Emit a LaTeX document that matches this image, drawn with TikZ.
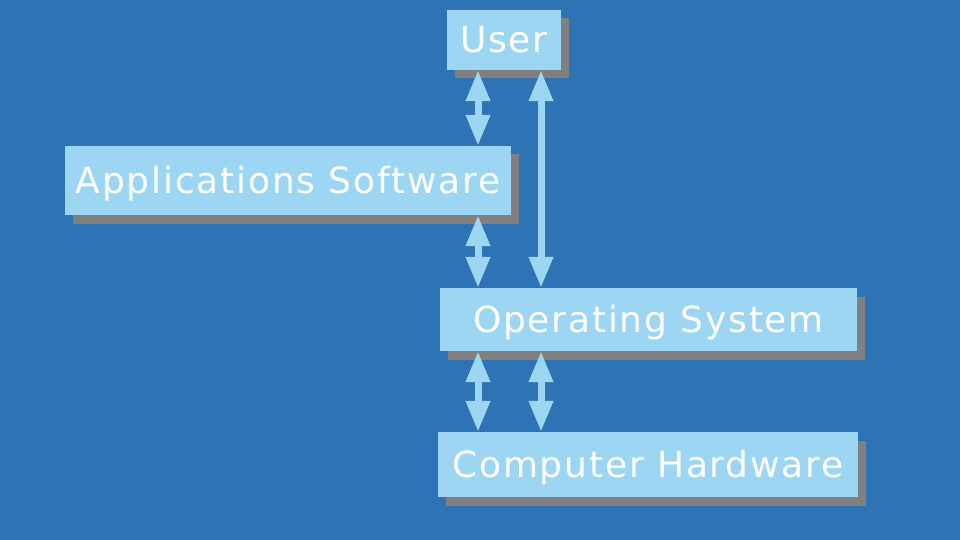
\documentclass[tikz,border=0pt]{standalone}
\usepackage{fontspec}
\setmainfont{DejaVu Sans}[LetterSpace=5]
\usetikzlibrary{arrows.meta,shadows}
\definecolor{bg}{RGB}{46,116,181}
\definecolor{boxc}{RGB}{157,214,243}
\definecolor{shadowc}{RGB}{128,128,128}
\begin{document}
\begin{tikzpicture}[x=1pt,y=-1pt,
  box/.style={rectangle, fill=boxc, inner sep=0pt, text=white,
    font=\fontsize{36}{40}\selectfont, text height=26pt, text depth=0pt,
    drop shadow={shadow xshift=8pt, shadow yshift=-8.5pt, fill=shadowc, opacity=1}},
  dbl/.style={draw=boxc, line width=7pt,
    {Triangle[length=31pt,width=23pt]}-{Triangle[length=31pt,width=23pt]}}]
\fill[bg] (0,0) rectangle (960,540);
\useasboundingbox (0,0) rectangle (960,540);
\node[box, minimum width=114pt, minimum height=60pt] (user) at (504,40) {User};
\node[box, minimum width=446pt, minimum height=69pt] (apps) at (288,180.5) {Applications Software};
\node[box, minimum width=417pt, minimum height=63pt] (os) at (648.5,319.5) {Operating System};
\node[box, minimum width=420pt, minimum height=65pt] (hw) at (648,464.5) {Computer Hardware};
\coordinate (c1) at (478,0);
\coordinate (c2) at (541,0);
\draw[dbl] (user.south -| c1) -- (apps.north -| c1);
\draw[dbl] (user.south -| c2) -- (os.north -| c2);
\draw[dbl] (apps.south -| c1) -- (os.north -| c1);
\draw[dbl] (os.south -| c1) -- (hw.north -| c1);
\draw[dbl] (os.south -| c2) -- (hw.north -| c2);
\end{tikzpicture}
\end{document}
